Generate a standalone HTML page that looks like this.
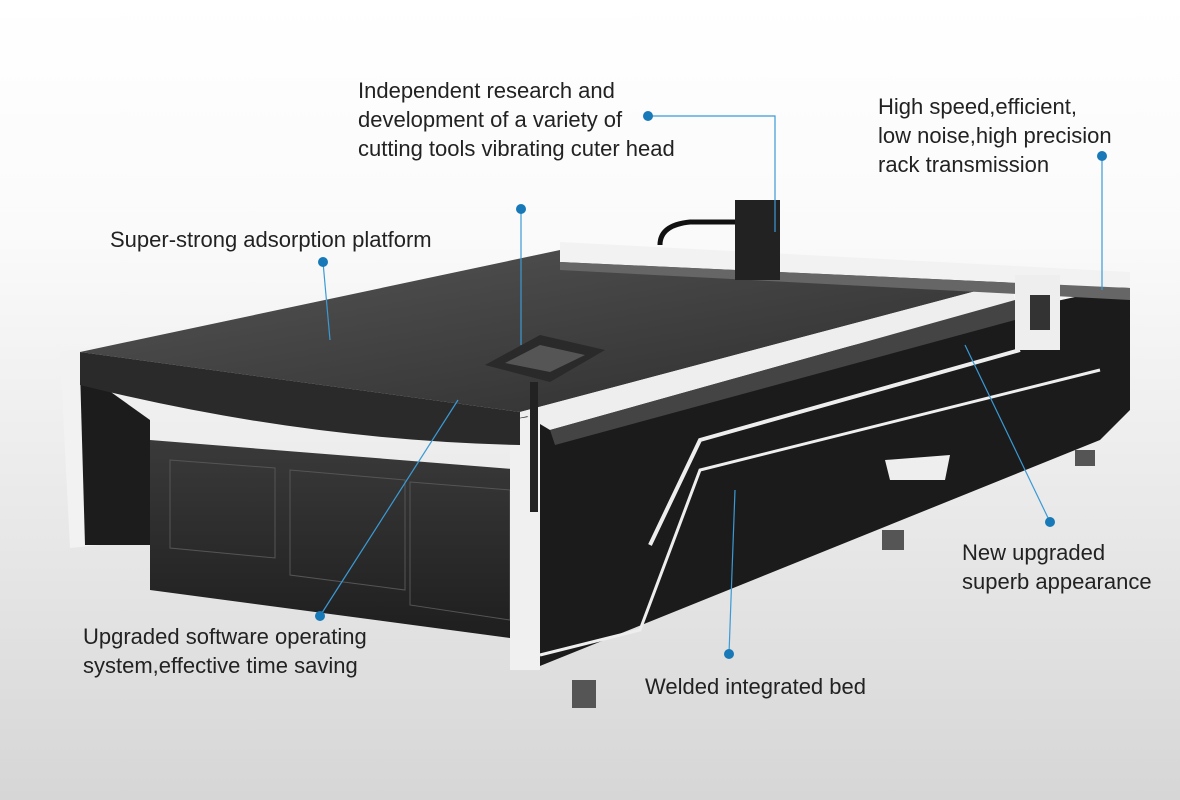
<!DOCTYPE html>
<html><head><meta charset="utf-8"><style>
html,body{margin:0;padding:0}
body{width:1180px;height:800px;overflow:hidden;background:linear-gradient(#fff 0%,#fafafa 30%,#e6e6e6 70%,#d6d6d6 100%);font-family:"Liberation Sans",sans-serif;position:relative}
.t{position:absolute;font-size:22px;color:#222;line-height:29px;white-space:nowrap}
svg{position:absolute;left:0;top:0}
</style></head><body>
<svg width="1180" height="800" viewBox="0 0 1180 800">
<defs>
<linearGradient id="top" x1="0" y1="0" x2="1" y2="1"><stop offset="0" stop-color="#555"/><stop offset="1" stop-color="#2c2c2c"/></linearGradient>
<linearGradient id="cab" x1="0" y1="0" x2="0" y2="1"><stop offset="0" stop-color="#3a3a3a"/><stop offset="1" stop-color="#1e1e1e"/></linearGradient>
</defs>
<rect x="160" y="565" width="22" height="20" fill="#555"/><rect x="572" y="680" width="24" height="28" fill="#555"/><rect x="882" y="530" width="22" height="20" fill="#555"/><rect x="1075" y="450" width="20" height="16" fill="#555"/>
<polygon points="150,440 525,470 525,640 150,590" fill="url(#cab)"/>
<polygon points="170,460 275,468 275,558 170,548" fill="none" stroke="#555"/>
<polygon points="290,470 405,480 405,590 290,575" fill="none" stroke="#555"/>
<polygon points="410,482 510,490 510,620 410,605" fill="none" stroke="#555"/>
<polygon points="60,352 100,345 100,545 70,548" fill="#f2f2f2"/>
<polygon points="80,370 150,420 150,545 85,545" fill="#1c1c1c"/>
<polygon points="510,420 1130,285 1130,410 1100,440 530,670" fill="#1b1b1b"/>
<polygon points="510,420 540,415 540,670 510,670" fill="#f0f0f0"/>
<path d="M650,545 L700,440 L1020,350" stroke="#eee" stroke-width="4" fill="none"/>
<path d="M540,655 L640,630 L700,470 L1100,370" stroke="#eee" stroke-width="3" fill="none"/>
<polygon points="80,352 560,250 1010,282 520,412" fill="url(#top)"/>
<path d="M80,352 L520,412 L520,445 Q300,440 80,385 Z" fill="#2a2a2a"/>
<polygon points="520,412 1010,282 1015,300 550,430" fill="#eee"/>
<polygon points="550,430 1015,300 1015,320 555,445" fill="#444"/>
<polygon points="560,242 1130,272 1130,288 560,262" fill="#f2f2f2"/>
<polygon points="560,262 1130,288 1130,300 560,270" fill="#666"/>
<rect x="1015" y="275" width="45" height="75" fill="#eee"/>
<rect x="1030" y="295" width="20" height="35" fill="#333"/>
<rect x="735" y="200" width="45" height="80" fill="#222"/>
<path d="M660,245 Q660,225 690,222 L735,222" stroke="#111" stroke-width="5" fill="none"/>
<polygon points="485,365 540,335 605,350 550,382" fill="#2a2a2a"/>
<polygon points="505,363 540,345 585,355 550,372" fill="#555"/>
<rect x="530" y="382" width="8" height="130" fill="#222"/>
<polygon points="885,460 950,455 945,480 890,480" fill="#eee"/>
<g stroke="#3a9ad5" stroke-width="1.2" fill="none">
<line x1="323" y1="262" x2="330" y2="340"/>
<line x1="521" y1="210" x2="521" y2="345"/>
<polyline points="648,116 775,116 775,232"/>
<line x1="1102" y1="156" x2="1102" y2="290"/>
<line x1="1050" y1="522" x2="965" y2="345"/>
<line x1="320" y1="616" x2="458" y2="400"/>
<line x1="729" y1="654" x2="735" y2="490"/>
</g>
<g fill="#1779b8">
<circle cx="323" cy="262" r="5"/><circle cx="521" cy="209" r="5"/><circle cx="648" cy="116" r="5"/><circle cx="1102" cy="156" r="5"/><circle cx="1050" cy="522" r="5"/><circle cx="320" cy="616" r="5"/><circle cx="729" cy="654" r="5"/>
</g>
</svg>
<div class="t" style="left:358px;top:76px">Independent research and<br>development of a variety of<br>cutting tools vibrating cuter head</div>
<div class="t" style="left:878px;top:92px">High speed,efficient,<br>low noise,high precision<br>rack transmission</div>
<div class="t" style="left:110px;top:225px">Super-strong adsorption platform</div>
<div class="t" style="left:962px;top:538px">New upgraded<br>superb appearance</div>
<div class="t" style="left:83px;top:622px">Upgraded software operating<br>system,effective time saving</div>
<div class="t" style="left:645px;top:672px">Welded integrated bed</div>
</body></html>
